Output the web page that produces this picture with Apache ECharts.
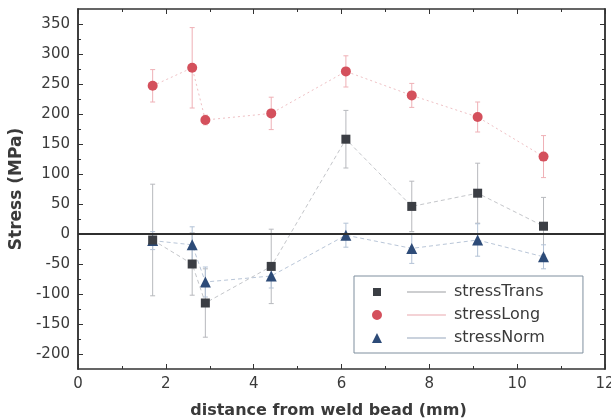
<!DOCTYPE html>
<html><head><meta charset="utf-8">
<script src="https://cdn.jsdelivr.net/npm/echarts@6/dist/echarts.min.js"></script>
<style>html,body{margin:0;padding:0;background:#fff}#c{width:611px;height:420px}</style>
</head><body><div id="c"></div>
<script>
// ---- data ----
const distance = [1.7, 2.6, 2.9, 4.4, 6.1, 7.6, 9.1, 10.6];
const stressTrans = [-10, -50, -115, -54, 158, 46, 68, 13];
const stressTransErr = [93, 52, 57, 62, 48, 42, 50, 48];
const stressLong = [247, 277, 190, 201, 271, 231, 195, 129];
const stressLongErr = [27, 67, 8, 27, 26, 20, 25, 35];
const stressNorm = [-11, -18, -80, -70, -2, -24, -10, -38];
const stressNormErr = [15, 30, 25, 20, 20, 25, 27, 20];
const yMajorTicks = [-200, -150, -100, -50, 0, 50, 100, 150, 200, 250, 300, 350];
const yMinorTicks = [-175, -125, -75, -25, 25, 75, 125, 175, 225, 275, 325];
const seriesNames = ['stressTrans', 'stressLong', 'stressNorm'];

const pairs = (xs, ys) => xs.map((x, i) => [x, ys[i]]);
const triples = (xs, ys, es) => xs.map((x, i) => [x, ys[i], es[i]]);

function errBar(color) {
  return function (params, api) {
    const x = api.value(0), y = api.value(1), e = api.value(2);
    const t = api.coord([x, y + e]), b = api.coord([x, y - e]);
    const hw = 2.5;
    const st = { stroke: color, lineWidth: 1 };
    return { type: 'group', children: [
      { type: 'line', shape: { x1: t[0], y1: t[1], x2: b[0], y2: b[1] }, style: st },
      { type: 'line', shape: { x1: t[0] - hw, y1: t[1], x2: t[0] + hw, y2: t[1] }, style: st },
      { type: 'line', shape: { x1: b[0] - hw, y1: b[1], x2: b[0] + hw, y2: b[1] }, style: st }
    ]};
  };
}

const axisColor = '#333';
const textColor = '#3a3a3a';
const font = 'DejaVu Sans, sans-serif';

function xAx(pos, withLabels) {
  return {
    type: 'value', position: pos, min: 0, max: 12, interval: 2,
    axisLine: { show: true, onZero: false, lineStyle: { color: axisColor, width: 1.5 } },
    axisTick: { show: true, inside: true, length: 5, lineStyle: { color: axisColor } },
    minorTick: { show: true, splitNumber: 2, length: 3, lineStyle: { color: axisColor } },
    axisLabel: { show: withLabels, fontSize: 15, color: textColor, margin: 8, fontFamily: font },
    splitLine: { show: false },
    name: withLabels ? 'distance from weld bead (mm)' : '',
    nameLocation: 'middle', nameGap: 34,
    nameTextStyle: { fontSize: 16, fontWeight: 'bold', color: textColor, fontFamily: font, padding: [0, 26, 0, 0] }
  };
}
function yAx(pos, ticks, len, withLabels) {
  return {
    type: 'value', position: pos, min: -225, max: 375,
    axisLine: { show: true, onZero: false, lineStyle: { color: axisColor, width: 1.5 } },
    axisTick: { show: true, inside: true, length: len, customValues: ticks, lineStyle: { color: axisColor } },
    axisLabel: { show: withLabels, customValues: ticks, fontSize: 15, color: textColor, margin: 8, fontFamily: font },
    splitLine: { show: false },
    name: withLabels ? 'Stress (MPa)' : '',
    nameLocation: 'middle', nameGap: 46,
    nameTextStyle: { fontSize: 17, fontWeight: 'bold', color: textColor, fontFamily: font }
  };
}

const colors = { trans: '#3b3e44', long: '#d4505c', norm: '#2d4b78' };

const chart = echarts.init(document.getElementById('c'), null, { renderer: 'canvas' });
chart.setOption({
  animation: false,
  backgroundColor: '#fff',
  grid: { left: 78, right: 6, top: 9, bottom: 51, outerBoundsMode: 'none', containLabel: false },
  xAxis: [xAx('bottom', true), xAx('top', false)],
  yAxis: [
    yAx('left', yMajorTicks, 5, true),
    yAx('left', yMinorTicks, 3, false),
    yAx('right', yMajorTicks, 5, false),
    yAx('right', yMinorTicks, 3, false)
  ],
  legend: {
    orient: 'vertical', left: 354, top: 276,
    padding: [8, 38, 7, 18], itemGap: 7,
    itemWidth: 74, itemHeight: 10,
    borderColor: '#7f8f9e', borderWidth: 1,
    textStyle: { fontSize: 16, color: textColor, fontFamily: font, padding: [0, 0, 0, 3] },
    itemStyle: { borderWidth: 0 },
    data: [
      { name: seriesNames[0], icon: 'path://M1,1L9,1L9,9L1,9Z M35,4.75L74,4.75L74,5.25L35,5.25Z M0,0L0,0.01Z M74,10L74,10.01Z' },
      { name: seriesNames[1], icon: 'path://M0,5A5,5,0,1,0,10,5A5,5,0,1,0,0,5Z M35,4.75L74,4.75L74,5.25L35,5.25Z M74,10L74,10.01Z M0,0L0,0.01Z' },
      { name: seriesNames[2], icon: 'path://M5,0L10,10L0,10Z M35,4.75L74,4.75L74,5.25L35,5.25Z M74,10L74,10.01Z' }
    ]
  },
  series: [
    { name: 'transErr', type: 'custom', renderItem: errBar('#b7b9bd'), data: triples(distance, stressTrans, stressTransErr), z: 1, silent: true },
    { name: 'longErr', type: 'custom', renderItem: errBar('#efb0b6'), data: triples(distance, stressLong, stressLongErr), z: 1, silent: true },
    { name: 'normErr', type: 'custom', renderItem: errBar('#b3c2d6'), data: triples(distance, stressNorm, stressNormErr), z: 1, silent: true },
    {
      name: seriesNames[2], type: 'line', data: pairs(distance, stressNorm),
      symbol: 'triangle', symbolSize: 11, itemStyle: { color: colors.norm },
      lineStyle: { color: '#b9c6d8', width: 1, type: [4, 3] }, z: 3
    },
    {
      name: seriesNames[1], type: 'line', data: pairs(distance, stressLong),
      symbol: 'circle', symbolSize: 10, itemStyle: { color: colors.long },
      lineStyle: { color: '#efc0c4', width: 1, type: [2, 3] }, z: 3
    },
    {
      name: seriesNames[0], type: 'line', data: pairs(distance, stressTrans),
      symbol: 'rect', symbolSize: 9, itemStyle: { color: colors.trans },
      lineStyle: { color: '#c4c6ca', width: 1, type: [4, 3] }, z: 4,
      markLine: { silent: true, symbol: 'none', label: { show: false },
        lineStyle: { color: '#2f2f2f', width: 2, type: 'solid' }, data: [{ yAxis: 0 }] }
    }
  ]
});
</script></body></html>
